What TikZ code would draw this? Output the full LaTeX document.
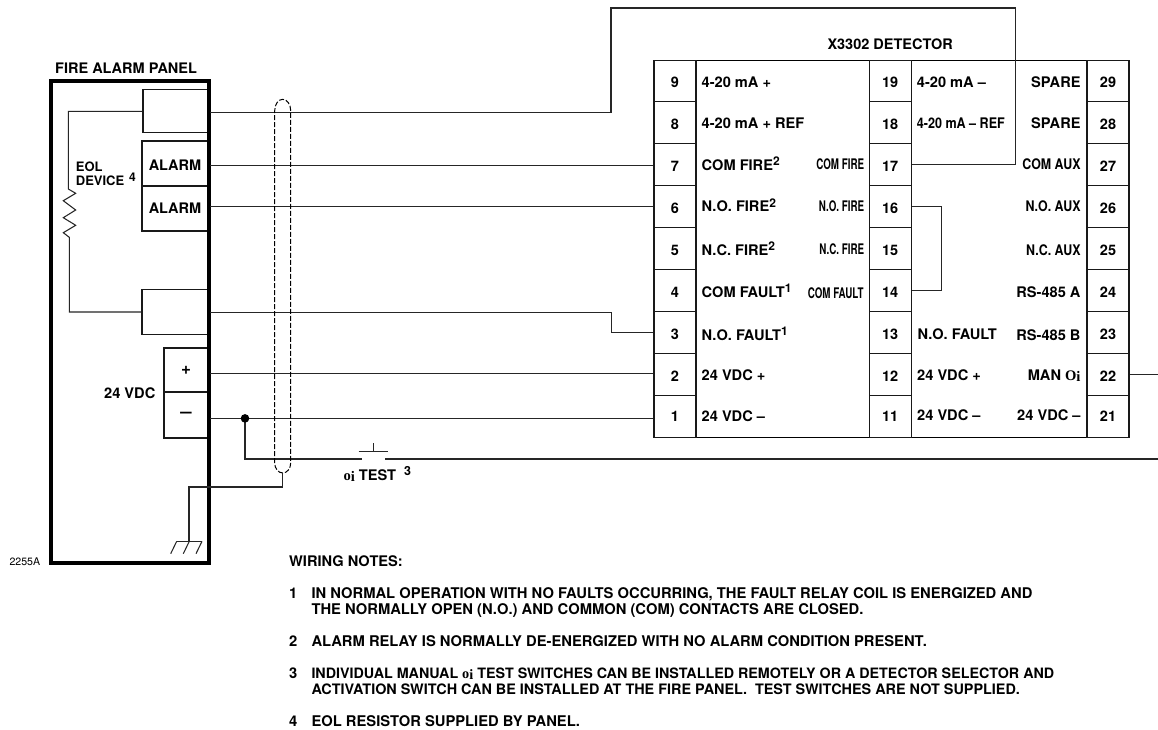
\documentclass[tikz,border=0pt]{standalone}
\usepackage{fontspec}
\setmainfont{TeX Gyre Heros}
\newfontfamily\oifont{Liberation Serif}
\newcommand{\fs}[1]{\fontsize{#1}{#1}\selectfont}
\newcommand{\spr}[1]{\raisebox{4.7pt}{\fs{12}#1}}
\newcommand{\oi}{{\oifont\bfseries o\raisebox{-1.5pt}{i}}}
\newcommand{\Oi}{{\oifont\bfseries O\raisebox{-.5pt}{i}}}
\newcommand{\cnd}[2]{\scalebox{#1}[1]{#2}}
\tikzset{
  x=1pt,y=-1pt,
  wire/.style={line width=1.05pt,black!85},
  boxed/.style={draw=black!90,line width=1.05pt,inner sep=0pt,font=\fs{14.5}\bfseries},
  term/.style={boxed,minimum width=42pt,minimum height=41.9pt,text height=13.4pt,text depth=0pt},
  termlow/.style={term,text height=9pt},
  lab/.style={inner sep=0pt,anchor=base west,font=\fs{14.6}\bfseries},
  labr/.style={inner sep=0pt,anchor=base east,font=\fs{14.6}\bfseries},
  note/.style={inner sep=0pt,anchor=base west,font=\fs{14.75}\bfseries},
  shield/.style={line width=1pt,black,dash pattern=on 5pt off 2pt},
}
\begin{document}
\begin{tikzpicture}
\useasboundingbox (0,0) rectangle (1158,730);
\fill[white] (0,0) rectangle (1158,730);

% panel relay boxes
\node[boxed,minimum width=65pt,minimum height=42.7pt] (relT) at (175.5,111.3) {};
\node[boxed,minimum width=66pt,minimum height=45pt,text height=14.2pt,text depth=0pt] (alm1) at (175,163.5) {ALARM};
\node[boxed,minimum width=66pt,minimum height=45pt,text height=10.8pt,text depth=0pt] (alm2) at (175,208.5) {ALARM};
\node[boxed,minimum width=66pt,minimum height=45.4pt] (relF) at (175,312) {};
\node[boxed,minimum width=44pt,minimum height=44pt,font=\fs{17}\bfseries] (plus) at (186,370) {+};
\node[boxed,minimum width=44pt,minimum height=46pt,font=\fs{17}\bfseries] (minus) at (186,415) {\cnd{1.2}{–}};
% panel outline
\node[draw=black,line width=4pt,minimum width=157.5pt,minimum height=482pt,inner sep=0pt] (panel) at (129.75,322) {};

\node[lab,font=\fs{14.5}\bfseries] (ptitle) at (55,74) {FIRE ALARM PANEL};
\node[lab,font=\fs{13}\bfseries] (eol) at (75.7,171.7) {EOL};
\node[lab,font=\fs{13}\bfseries] (dev) at (75.7,185.3) {DEVICE};
\node[lab,font=\fs{12}\bfseries] (dev4) at (129,181.3) {4};
\node[lab] (v24) at (104,398.3) {24 VDC};
\node[lab,font=\fs{10.6}] (code) at (9.3,565) {2255A};

% EOL device
\coordinate (rTop) at (68.3,189);
\coordinate (rBot) at (69.3,237.3);
\draw[wire] (relT.west) -| (rTop) -- (75.7,193.3) -- (63.3,200.7) -- (75.7,210) -- (63.3,217.7) -- (75.7,225.3) -- (63.3,232.7) -- (rBot) |- (relF.west);

% detector
\node[draw=black,line width=1.3pt,minimum width=475.3pt,minimum height=377.4pt,inner sep=0pt] (det) at (891.35,249) {};
\node[lab,font=\fs{14.5}\bfseries] (dtitle) at (827.3,50) {X3302 DETECTOR};
\foreach \n/\yy in {9/81,8/122.9,7/164.8,6/206.7,5/248.6,4/290.5,3/332.4,2/374.3}
  \node[term] (t\n) at (675,\yy) {\n};
\node[termlow] (t1) at (675,416.8) {1};
\foreach \n/\yy in {19/81,18/122.9,17/164.8,16/206.7,15/248.6,14/290.5,13/332.4,12/374.3}
  \node[term] (t\n) at (890.2,\yy) {\n};
\node[termlow] (t11) at (890.2,416.8) {11};
\foreach \n/\yy in {29/81,28/122.9,27/164.8,26/206.7,25/248.6,24/290.5,23/332.4,22/374.3}
  \node[term] (t\n) at (1108,\yy) {\n};
\node[termlow] (t21) at (1108,416.8) {21};

% left column labels
\node[lab] (a9) at (701.5,87.7) {4-20 mA +};
\node[lab] (a8) at (701.5,128.7) {4-20 mA + REF};
\node[lab] (a7) at (701.5,170.7) {COM FIRE\spr{2}};
\node[lab] (a6) at (701.5,211.7) {N.O. FIRE\spr{2}};
\node[lab] (a5) at (701.5,255) {N.C. FIRE\spr{2}};
\node[lab] (a4) at (701.5,297.3) {COM FAULT\spr{1}};
\node[lab] (a3) at (701.5,340) {N.O. FAULT\spr{1}};
\node[lab] (a2) at (701.5,380) {24 VDC +};
\node[lab] (a1) at (701.5,421) {24 VDC –};
% condensed labels
\node[labr] (b7) at (864.3,170) {\cnd{.67}{COM FIRE}};
\node[labr] (b6) at (864.3,211.7) {\cnd{.67}{N.O. FIRE}};
\node[labr] (b5) at (864.3,254.3) {\cnd{.67}{N.C. FIRE}};
\node[labr] (b4) at (863.7,298) {\cnd{.67}{COM FAULT}};
% middle column labels
\node[lab] (c9) at (916.7,87.3) {4-20 mA –};
\node[lab] (c8) at (916.7,129) {\cnd{.86}{4-20 mA – REF}};
\node[lab] (c3) at (917.3,339.3) {N.O. FAULT};
\node[lab] (c2) at (917,380) {24 VDC +};
\node[lab] (c1) at (917,420.7) {24 VDC –};
% right column labels
\node[labr] (d9) at (1080.7,87.3) {SPARE};
\node[labr] (d8) at (1080.7,129) {SPARE};
\node[labr] (d7) at (1080.7,170) {\cnd{.85}{COM AUX}};
\node[labr] (d6) at (1080.7,211.7) {\cnd{.85}{N.O. AUX}};
\node[labr] (d5) at (1080.7,255) {\cnd{.85}{N.C. AUX}};
\node[labr] (d4) at (1080.7,297.7) {RS-485 A};
\node[labr] (d3) at (1080.7,340) {RS-485 B};
\node[labr] (d2) at (1080.7,380.7) {MAN \Oi};
\node[labr] (d1) at (1080.7,420.7) {24 VDC –};

% wires
\coordinate (p1) at (210,112.3);
\coordinate (p2) at (210,165.5);
\coordinate (p3) at (210,206.8);
\coordinate (p4) at (210,312.2);
\coordinate (p5) at (210,373.5);
\coordinate (p6) at (210,418.4);
\coordinate (up1) at (611,8);
\coordinate (up2) at (1015.3,8);
\coordinate (jogF) at (611.7,332.6);
\coordinate (e22) at (1158,374.3);
\coordinate (eTest) at (1158,459);
\coordinate (swL) at (362,459);
\coordinate (swR) at (385,459);
\coordinate (jun) at (245,418.4);
\draw[wire] (p1) -| (up1) -- (up2) |- (t17.east);
\draw[wire] (p2) -- (p2 -| t7.west);
\draw[wire] (p3) -- (p3 -| t6.west);
\draw[wire] (p4) -| (jogF) -- (jogF -| t3.west);
\draw[wire] (p5) -- (p5 -| t2.west);
\draw[wire] (p6) -- (p6 -| t1.west);
\draw[wire] (t16.east) -- ++(29.3,0) |- (t14.east);
\draw[wire] (t22.east) -- (e22);
\draw[wire] (jun) |- (swL);
\draw[wire] (swR) -- (eTest);
\fill[black] (jun) circle[radius=4.3];

% test switch
\coordinate (swBarL) at (358.7,451.7);
\coordinate (swBarR) at (387.7,451.7);
\coordinate (swStem) at (373.3,443.3);
\draw[wire] (swBarL) -- (swBarR);
\draw[wire] (swStem) -- (swStem |- swBarL);
\node[lab] (test) at (343.3,480) {\oi\ TEST};
\node[lab,font=\fs{12.5}\bfseries] (test3) at (404,475) {3};

% shield
\coordinate (shB) at (282.7,473);
\draw[shield] (shB) .. controls (278.3,473) and (274.7,468.5) .. (274.7,463) -- (274.7,110.7)
  .. controls (274.7,104.4) and (278.3,99.3) .. (282.7,99.3)
  .. controls (287.1,99.3) and (290.7,104.4) .. (290.7,110.7) -- (290.7,463)
  .. controls (290.7,468.5) and (287.1,473) .. (shB);

% earth
\coordinate (gnd) at (189,541.3);
\draw[wire] (shB) |- (189,487) -- (gnd);
\draw[wire] (176.7,541.3) -- (202,541.3);
\draw[wire] (176.7,541.3) -- ++(-6,12.4);
\draw[wire] (189.3,541.3) -- ++(-6,12.4);
\draw[wire] (202,541.3) -- ++(-6,12.4);

% notes
\node[note,font=\fs{14.6}\bfseries] (nh) at (289,566) {WIRING NOTES:};
\node[note] (n1) at (289,598.3) {1};
\node[note] (n1a) at (311.3,598.3) {IN NORMAL OPERATION WITH NO FAULTS OCCURRING, THE FAULT RELAY COIL IS ENERGIZED AND};
\node[note] (n1b) at (311.3,614.3) {THE NORMALLY OPEN (N.O.) AND COMMON (COM) CONTACTS ARE CLOSED.};
\node[note] (n2) at (289,646.3) {2};
\node[note] (n2a) at (311.3,646.3) {ALARM RELAY IS NORMALLY DE-ENERGIZED WITH NO ALARM CONDITION PRESENT.};
\node[note] (n3) at (289,678.3) {3};
\node[note,font=\fs{14.3}\bfseries] (n3a) at (311.3,678.3) {INDIVIDUAL MANUAL \oi\ TEST SWITCHES CAN BE INSTALLED REMOTELY OR A DETECTOR SELECTOR AND};
\node[note,font=\fs{14.4}\bfseries] (n3b) at (311.3,694.3) {ACTIVATION SWITCH CAN BE INSTALLED AT THE FIRE PANEL.\ \ TEST SWITCHES ARE NOT SUPPLIED.};
\node[note] (n4) at (289,726) {4};
\node[note] (n4a) at (311.3,726) {EOL RESISTOR SUPPLIED BY PANEL.};
\end{tikzpicture}
\end{document}
